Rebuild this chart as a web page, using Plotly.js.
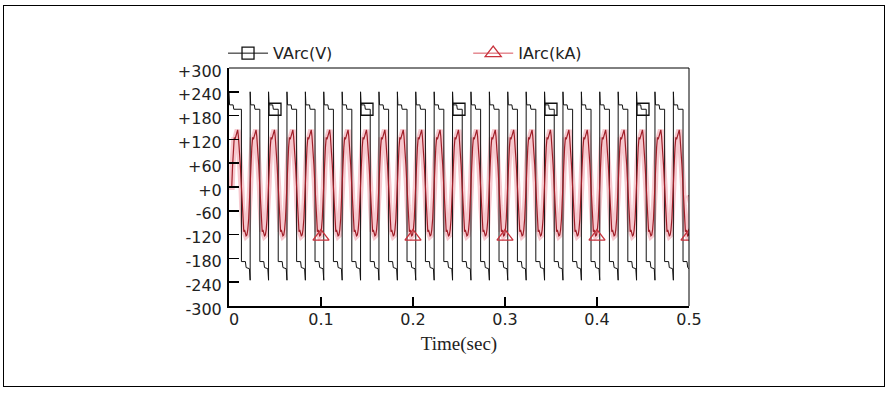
<!DOCTYPE html>
<html>
<head>
<meta charset="utf-8">
<script src="https://cdn.plot.ly/plotly-3.0.1.min.js"></script>
<style>
  html, body { margin: 0; padding: 0; background: #fff; }
  #wrap { position: relative; width: 887px; height: 396px; }
  #chart { position: absolute; left: 0; top: 0; width: 887px; height: 396px; }
  #frame { position: absolute; left: 3px; top: 5px; width: 880px; height: 380px; border: 1px solid #000; pointer-events: none; }
</style>
</head>
<body>
<div id="wrap"><div id="chart"></div><div id="frame"></div></div>
<script>
// ---- data ----
// voltage rise instants (current zero crossings, rising), seconds
const riseTimes = [0.003, 0.023, 0.043, 0.063, 0.083, 0.103, 0.123, 0.143, 0.163, 0.183,
                   0.203, 0.223, 0.243, 0.263, 0.283, 0.303, 0.323, 0.343, 0.363, 0.383,
                   0.403, 0.423, 0.443, 0.463, 0.483];
// voltage fall instants, seconds
const fallTimes = [0.0135, 0.0335, 0.0535, 0.0735, 0.0935, 0.1135, 0.1335, 0.1535, 0.1735, 0.1935,
                   0.2135, 0.2335, 0.2535, 0.2735, 0.2935, 0.3135, 0.3335, 0.3535, 0.3735, 0.3935,
                   0.4135, 0.4335, 0.4535, 0.4735, 0.4935];
// one positive half-cycle of VArc (offsets from rise, V)
const vPosOffsets = [0, 0.0006, 0.0045, 0.0052];
const vPosLevels  = [240, 207, 207, 196];
// one negative half-cycle of VArc (offsets from fall, V)
const vNegOffsets = [0, 0.0043, 0.0051];
const vNegLevels  = [-188, -188, -203];
const vPreRise = -206;   // level just before reignition
const vSpikeLow = -235;  // reignition spike bottom
// one cycle of IArc (offsets from its rising zero crossing, kA)
const iOffsets = [0, 0.0008, 0.0018, 0.0027, 0.0035, 0.0045, 0.0056, 0.0064, 0.0072, 0.0082, 0.0093,
                  0.0105, 0.0113, 0.0122, 0.0131, 0.0139, 0.0147, 0.0156, 0.0165, 0.0174, 0.0184, 0.0193];
const iValues  = [0, 50, 100, 125, 120, 128, 140, 144, 128, 100, 55,
                  0, -48, -90, -113, -108, -117, -123, -121, -108, -80, -42];
// legend marker positions
const vMarkT = [0.05, 0.15, 0.25, 0.35, 0.45];
const vMarkV = [196, 196, 196, 196, 196];
const iMarkT = [0.1, 0.2, 0.3, 0.4, 0.5];
const iMarkV = [-125, -125, -125, -125, -125];
// axes
const xTickVals = [0, 0.1, 0.2, 0.3, 0.4, 0.5];
const xTickText = ['\u20070', '0.1', '0.2', '0.3', '0.4', '0.5'];
const yTickVals = [300, 240, 180, 120, 60, 0, -60, -120, -180, -240, -300];
const yTickText = ['+300', '+240', '+180', '+120', '+60', '+0', '-60', '-120', '-180', '-240', '-300'];

// ---- build series from the read values ----
const vx = [], vy = [];
riseTimes.forEach((r, k) => {
  const start = k === 0 ? 0 : r;
  if (k > 0) { vx.push(r - 0.0008); vy.push(vPreRise); vx.push(r); vy.push(vSpikeLow); }
  vPosOffsets.forEach((o, j) => { vx.push(start + o); vy.push(vPosLevels[j]); });
  const f = fallTimes[k];
  vx.push(f); vy.push(vPosLevels[vPosLevels.length - 1]);
  vNegOffsets.forEach((o, j) => { vx.push(f + o); vy.push(vNegLevels[j]); });
});
vx.push(0.5); vy.push(vPreRise);

const ix = [0], iy = [0];
riseTimes.forEach(r => {
  iOffsets.forEach((o, j) => { ix.push(r + o); iy.push(iValues[j]); });
});
ix.push(0.5); iy.push(-20);

function isolate(ts, vs) {
  const x = [], y = [];
  ts.forEach((t, i) => { x.push(t); y.push(vs[i]); x.push(null); y.push(null); });
  return {x, y};
}
const vm = isolate(vMarkT, vMarkV);
const im = isolate(iMarkT, iMarkV);

const RED = 'rgb(160,30,40)';
const traces = [
  {x: ix, y: iy, mode: 'lines', line: {color: 'rgba(235,120,135,0.4)', width: 6}, showlegend: false, hoverinfo: 'skip'},
  {x: vx, y: vy, mode: 'lines', line: {color: '#111', width: 1}, showlegend: false},
  {x: ix, y: iy, mode: 'lines', line: {color: RED, width: 1.2}, showlegend: false},
  {x: vm.x, y: vm.y, mode: 'lines+markers', name: 'VArc(V)', legend: 'legend',
   line: {color: '#111', width: 1}, marker: {symbol: 'square-open', size: 12, color: '#111', line: {width: 1.3}}},
  {x: im.x, y: im.y, mode: 'lines+markers', name: 'IArc(kA)', legend: 'legend2',
   line: {color: 'rgb(215,80,90)', width: 1}, marker: {symbol: 'triangle-up-open', size: 14, color: 'rgb(200,50,60)', line: {width: 1.3}}}
];

const tickFont = {family: 'DejaVu Sans', size: 16, color: '#222'};
const layout = {
  width: 887, height: 396,
  margin: {l: 229, r: 198, t: 68, b: 90},
  paper_bgcolor: '#fff', plot_bgcolor: '#fff',
  showlegend: true,
  xaxis: {
    range: [0, 0.5], tickvals: xTickVals, ticktext: xTickText,
    showgrid: false, zeroline: false, showline: true, linecolor: '#000', linewidth: 2,
    ticks: 'inside', ticklen: 9, tickwidth: 1.5, tickcolor: '#000',
    tickfont: tickFont, ticklabelstandoff: -2,
    title: {text: 'Time(sec)', font: {family: 'Liberation Serif', size: 19, color: '#222'}, standoff: 8}
  },
  yaxis: {
    range: [-300, 300], tickvals: yTickVals, ticktext: yTickText,
    showgrid: false, zeroline: false, showline: true, linecolor: '#000', linewidth: 2,
    ticks: 'inside', ticklen: 10, tickwidth: 1.5, tickcolor: '#000',
    tickfont: tickFont, ticklabelshift: 3, ticklabelstandoff: 2
  },
  shapes: [
    {type: 'line', xref: 'paper', yref: 'paper', x0: 0, x1: 1, y0: 1, y1: 1, line: {color: '#000', width: 1}},
    {type: 'line', xref: 'paper', yref: 'paper', x0: 1, x1: 1, y0: 0, y1: 1, line: {color: '#000', width: 1}}
  ],
  legend: {x: -0.013, y: 1.062, xanchor: 'left', yanchor: 'middle', orientation: 'h',
           bgcolor: 'rgba(0,0,0,0)', borderwidth: 0, itemwidth: 40,
           font: {family: 'DejaVu Sans', size: 16, color: '#222'}},
  legend2: {x: 0.52, y: 1.062, xanchor: 'left', yanchor: 'middle', orientation: 'h',
            bgcolor: 'rgba(0,0,0,0)', borderwidth: 0, itemwidth: 40,
            font: {family: 'DejaVu Sans', size: 16, color: '#222'}}
};

Plotly.newPlot('chart', traces, layout, {staticPlot: true, displayModeBar: false});
</script>
</body>
</html>
